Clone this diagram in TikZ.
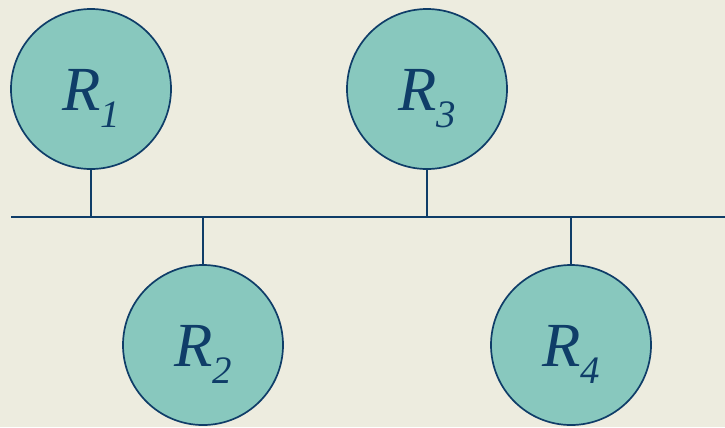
\documentclass[tikz,border=0pt]{standalone}
\usepackage{fontspec}
\setmainfont{Liberation Serif}
\definecolor{bgc}{HTML}{EDECDF}
\definecolor{fillc}{HTML}{88C8BE}
\definecolor{navy}{HTML}{0F3D68}
\newcommand{\Rlab}[1]{{\fontsize{63}{63}\selectfont\itshape R\raisebox{-17bp}{\fontsize{39}{39}\selectfont #1}}}
\begin{document}
\begin{tikzpicture}[x=1bp,y=-1bp,
  rnode/.style={circle,draw=navy,fill=fillc,line width=1.7bp,minimum size=160bp,inner sep=0pt,text=navy,text height=42bp,text depth=0bp},
  wire/.style={draw=navy,line width=1.7bp}]
\fill[bgc] (0,0) rectangle (725,427);
\useasboundingbox (0,0) rectangle (725,427);
\coordinate (busL) at (11,217);
\coordinate (busR) at (725,217);
\node[rnode] (r1) at (91,89) {\Rlab{1}};
\node[rnode] (r3) at (427,89) {\Rlab{3}};
\node[rnode] (r2) at (203,345) {\Rlab{2}};
\node[rnode] (r4) at (571,345) {\Rlab{4}};
\draw[wire] (busL) -- (busR);
\draw[wire] (r1.south) -- (r1.south |- busL);
\draw[wire] (r3.south) -- (r3.south |- busL);
\draw[wire] (r2.north) -- (r2.north |- busL);
\draw[wire] (r4.north) -- (r4.north |- busL);
\end{tikzpicture}
\end{document}
